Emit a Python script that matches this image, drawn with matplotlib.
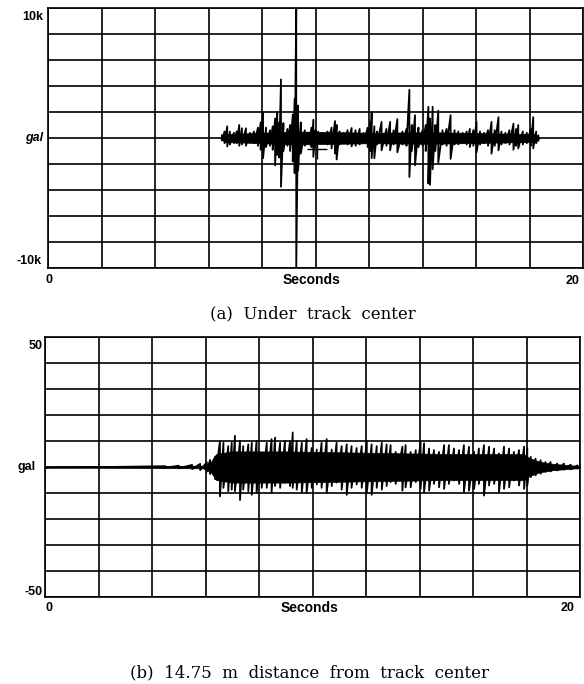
import numpy as np
import matplotlib.pyplot as plt

# (a) under track center, kgal (time s, upper peak, lower peak)
top_t = [6.50, 6.60, 6.70, 6.80, 6.95, 7.05, 7.15, 7.25, 7.40, 7.55, 7.70, 7.85,
         7.95, 8.04, 8.15, 8.30, 8.40, 8.49, 8.57, 8.64, 8.71, 8.80, 8.95, 9.05,
         9.15, 9.22, 9.28, 9.35, 9.45, 9.60, 9.75, 9.85, 9.92, 10.00, 10.10, 10.25,
         10.45, 10.60, 10.73, 10.79, 10.90, 11.05, 11.20, 11.35, 11.50, 11.65, 11.80,
         11.95, 12.05, 12.10, 12.20, 12.30, 12.47, 12.65, 12.79, 12.92, 13.06, 13.25,
         13.40, 13.51, 13.60, 13.72, 13.85, 14.00, 14.12, 14.22, 14.28, 14.38, 14.48,
         14.59, 14.75, 14.90, 15.05, 15.20, 15.34, 15.50, 15.65, 15.77, 15.90, 16.02,
         16.15, 16.30, 16.45, 16.58, 16.70, 16.84, 16.95, 17.10, 17.25, 17.40, 17.50,
         17.58, 17.75, 17.90, 18.05, 18.14, 18.25, 18.33]
top_hi = [0.2, 0.5, 0.9, 0.5, 0.4, 0.5, 1.0, 0.75, 0.75, 0.4, 0.5, 0.8,
          1.2, 1.95, 0.8, 0.6, 0.9, 1.5, 2.0, 1.2, 4.5, 1.15, 0.7, 1.0,
          1.8, 3.0, 10.0, 2.5, 1.2, 0.6, 0.4, 0.8, 1.4, 0.6, 0.5, 0.4,
          0.5, 0.8, 1.3, 1.0, 0.5, 0.4, 0.6, 0.77, 0.6, 0.7, 0.4,
          0.8, 1.2, 2.0, 0.9, 0.5, 1.24, 0.7, 1.24, 0.6, 1.45, 0.5,
          0.7, 3.7, 1.0, 1.75, 0.8, 0.6, 1.0, 2.4, 1.5, 2.4, 1.0,
          2.1, 0.6, 0.7, 1.75, 0.6, 0.5, 0.4, 0.5, 0.7, 0.6, 1.24,
          0.5, 0.4, 0.6, 1.24, 0.6, 1.6, 0.5, 0.4, 0.6, 1.1, 0.7,
          1.0, 0.5, 0.4, 0.7, 1.6, 0.5, 0.2]
top_lo = [-0.2, -0.4, -0.65, -0.5, -0.4, -0.4, -0.6, -0.5, -0.6, -0.35, -0.4, -0.6,
          -0.9, -1.55, -0.7, -0.6, -0.9, -2.1, -1.3, -1.5, -3.75, -1.0, -0.6, -1.0,
          -1.8, -2.7, -10.0, -2.5, -1.2, -0.6, -0.4, -0.7, -1.45, -0.6, -0.4, -0.4,
          -0.5, -0.8, -1.2, -1.65, -0.5, -0.4, -0.5, -0.65, -0.6, -0.5, -0.4,
          -0.7, -1.0, -1.55, -1.55, -0.5, -0.95, -0.6, -0.95, -0.5, -1.1, -0.5,
          -0.6, -3.0, -1.0, -2.1, -0.7, -0.6, -1.0, -3.5, -3.6, -2.4, -1.0,
          -1.9, -0.5, -0.6, -1.6, -0.5, -0.5, -0.4, -0.5, -0.7, -0.6, -1.1,
          -0.5, -0.4, -0.6, -1.2, -0.6, -0.95, -0.5, -0.4, -0.5, -0.9, -0.6,
          -0.8, -0.5, -0.4, -0.6, -0.8, -0.4, -0.2]
# solid part of the band (half thickness)
top_core_t = [6.45, 6.60, 8.00, 9.30, 12.10, 14.20, 18.20, 18.35]
top_core = [0.05, 0.30, 0.40, 0.50, 0.40, 0.45, 0.30, 0.05]
cursor_t, cursor_v = 10.05, -0.85

# (b) 14.75 m from track center, gal
bot_t = [0.0, 4.5, 5.0, 5.5, 5.8, 6.05,
         6.17, 6.36, 6.54, 6.67, 6.85, 6.98, 7.10, 7.29, 7.41, 7.60, 7.73, 7.91,
         8.10, 8.29, 8.47, 8.60, 8.79, 8.97, 9.16, 9.26, 9.41, 9.60, 9.78, 9.97,
         10.16, 10.34, 10.53, 10.72, 10.90, 11.09, 11.28, 11.46, 11.65, 11.84, 12.03,
         12.21, 12.40, 12.59, 12.77, 12.92, 13.11, 13.36, 13.48, 13.67, 13.86, 14.04,
         14.17, 14.36, 14.54, 14.73, 14.92, 15.10, 15.29, 15.48, 15.66, 15.85, 16.04,
         16.22, 16.41, 16.60, 16.79, 16.97, 17.16, 17.35, 17.53, 17.72, 17.91, 18.03,
         18.16, 18.34, 18.53, 18.71, 18.90, 19.15, 19.40, 19.65, 19.90, 20.0]
bot_hi = [0.3, 0.3, 0.5, 0.8, 1.2, 1.8,
          2.7, 4.0, 10.0, 9.3, 8.0, 9.3, 12.0, 10.0, 8.0, 8.7, 9.3, 10.0,
          5.3, 9.3, 10.7, 11.3, 9.3, 10.0, 10.0, 13.3, 10.0, 9.3, 10.7, 7.3,
          6.7, 9.3, 10.7, 6.7, 9.3, 8.0, 8.7, 8.0, 7.3, 8.0, 10.0,
          8.7, 8.0, 9.3, 8.7, 8.4, 5.8, 7.8, 8.4, 5.8, 6.5, 9.7,
          9.1, 7.1, 6.5, 5.8, 8.4, 8.4, 7.1, 6.5, 8.4, 7.8, 5.8,
          7.1, 8.4, 7.8, 7.1, 5.2, 7.8, 7.1, 5.8, 6.5, 7.8, 7.1,
          3.9, 3.2, 2.6, 1.9, 1.9, 1.3, 1.3, 0.9, 0.6, 0.5]
bot_lo = [-0.3, -0.3, -0.5, -0.8, -1.2, -1.8,
          -2.7, -4.7, -11.3, -8.0, -9.3, -8.7, -9.3, -12.7, -8.7, -9.3, -10.7, -10.0,
          -8.0, -8.0, -10.0, -7.3, -8.0, -6.0, -7.3, -8.0, -8.7, -10.0, -10.0, -8.0,
          -6.7, -8.0, -10.0, -7.3, -6.0, -8.7, -10.7, -8.0, -6.7, -8.0, -10.0,
          -10.7, -8.0, -8.7, -7.3, -5.8, -6.5, -9.1, -7.8, -7.8, -5.8, -8.4,
          -9.7, -9.1, -6.5, -7.8, -8.4, -6.5, -5.2, -6.5, -9.7, -9.1, -8.4,
          -6.5, -11.0, -7.1, -6.5, -9.7, -8.4, -7.8, -5.2, -7.1, -8.4, -7.1,
          -3.9, -3.2, -2.6, -1.9, -1.7, -1.3, -1.0, -0.9, -0.6, -0.5]
bot_core_t = [0.0, 5.9, 6.2, 6.4, 7.0, 9.0, 12.0, 15.0, 17.9, 18.1, 18.5, 19.0, 20.0]
bot_core = [0.2, 0.5, 2.0, 5.0, 6.0, 6.0, 5.5, 5.0, 5.0, 3.5, 2.0, 1.2, 0.4]


def zigzag(t, hi, lo):
    # vertical stroke at each reading, joined to the next one
    x = np.repeat(t, 2)
    y = np.column_stack([hi, lo]).ravel()
    return x, y


def setup(ax, ylim):
    ax.set_xlim(0, 20)
    ax.set_ylim(-ylim, ylim)
    ax.set_xticks(np.arange(0, 21, 2))
    ax.set_yticks(np.linspace(-ylim, ylim, 11))
    ax.grid(True, color='black', lw=1.2)
    ax.tick_params(length=0, labelbottom=False, labelleft=False)
    for s in ax.spines.values():
        s.set_color('black')
        s.set_linewidth(1.2)


def trace(ax, t, hi, lo, core_t, core, lw):
    core = np.array(core)
    ax.fill_between(core_t, -core, core, color='black', lw=0.5)
    x, y = zigzag(t, hi, lo)
    ax.plot(x, y, color='black', lw=lw)


lab = dict(family='Liberation Sans', weight='bold', fontsize=9, clip_on=False)
cap = dict(family='DejaVu Serif', fontsize=12, ha='center', va='center', clip_on=False)

fig = plt.figure(figsize=(5.84, 6.84), dpi=100)

ax1 = fig.add_axes([48 / 584, 1 - 268 / 684, 535 / 584, 260 / 684])
setup(ax1, 10)
trace(ax1, top_t, top_hi, top_lo, top_core_t, top_core, 1.3)
ax1.plot(cursor_t, cursor_v, marker='+', ms=15, mew=1.0, color='black')
ax1.text(-0.18, 9.3, '10k', ha='right', va='center', **lab)
ax1.text(-0.18, 0, 'gal', ha='right', va='center', style='italic', **lab)
ax1.text(-0.25, -9.45, '-10k', ha='right', va='center', **lab)
ax1.text(0.05, -10.9, '0', ha='center', va='center', **lab)
ax1.text(9.85, -10.9, 'Seconds', ha='center', va='center', **{**lab, 'fontsize': 10})
ax1.text(19.6, -11.0, '20', ha='center', va='center', **lab)
ax1.text(9.9, -13.5, '(a)  Under  track  center', **cap)

ax2 = fig.add_axes([45 / 584, 1 - 597 / 684, 535 / 584, 260 / 684])
setup(ax2, 50)
trace(ax2, bot_t, bot_hi, bot_lo, bot_core_t, bot_core, 1.3)
ax2.text(-0.1, 46.5, '50', ha='right', va='center', **lab)
ax2.text(-0.35, 0, 'gal', ha='right', va='center', **lab)
ax2.text(-0.1, -48, '-50', ha='right', va='center', **lab)
ax2.text(0.15, -54.2, '0', ha='center', va='center', **lab)
ax2.text(9.9, -54.2, 'Seconds', ha='center', va='center', **{**lab, 'fontsize': 10})
ax2.text(19.55, -54.2, '20', ha='center', va='center', **lab)
ax2.text(9.9, -79, '(b)  14.75  m  distance  from  track  center', **cap)

fig.savefig('out.png', dpi=100)
